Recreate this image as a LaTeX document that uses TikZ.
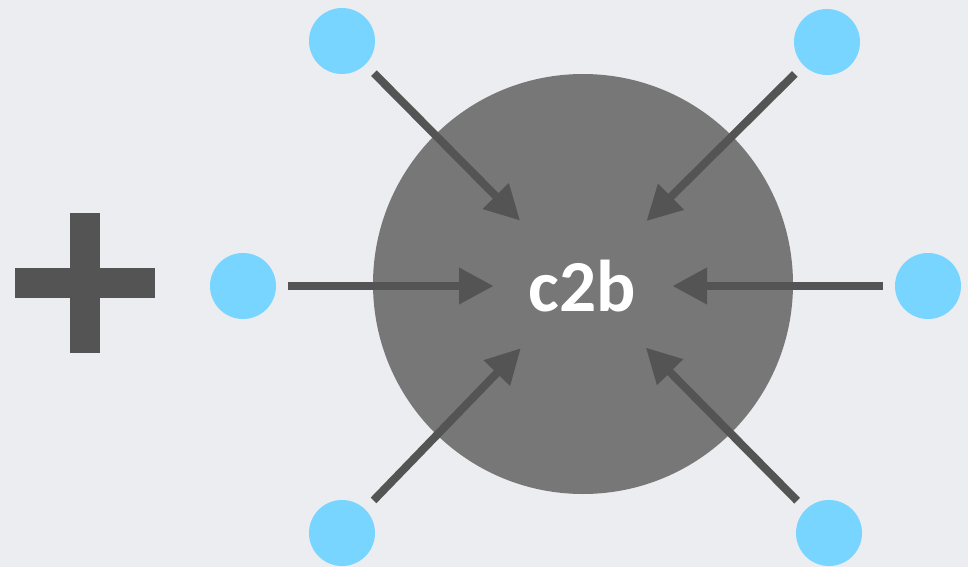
\documentclass[tikz,border=0pt]{standalone}
\usepackage{fontspec}
\setmainfont{Carlito}
\usetikzlibrary{arrows.meta}
\definecolor{bgc}{RGB}{236,237,240}
\definecolor{hubc}{RGB}{119,119,119}
\definecolor{inkc}{RGB}{84,84,84}
\definecolor{dotc}{RGB}{119,213,255}
\begin{document}
\begin{tikzpicture}[x=0.75pt,y=-0.75pt,
  dot/.style={circle,fill=dotc,minimum size=49.5pt,inner sep=0pt},
  feed/.style={draw=inkc,line width=6pt,
    -{Triangle[length=26pt,width=26pt]},
    shorten <=34pt,shorten >=67pt}]
  % background and frame
  \fill[bgc] (0,0) rectangle (968,567);
  \useasboundingbox (0,0) rectangle (968,567);
  % plus sign
  \fill[inkc] (15,268) rectangle (155,298);
  \fill[inkc] (70,213) rectangle (100,353);
  % central hub
  \node[circle,fill=hubc,minimum size=315pt,inner sep=0pt] (hub) at (583,284) {};
  % surrounding dots
  \node[dot] (s1) at (342,41) {};
  \node[dot] (s2) at (827,42) {};
  \node[dot] (s3) at (243,286) {};
  \node[dot] (s4) at (928,286) {};
  \node[dot] (s5) at (342,533) {};
  \node[dot] (s6) at (829,533) {};
  % arrows into the hub, measured between centres
  \foreach \s in {s1,s2,s5,s6}
    \draw[feed] (\s.center) -- (hub.center);
  % side arrows run level with their dots
  \foreach \s in {s3,s4}
    \draw[feed] (\s.center) -- (\s.center -| hub.center);
  % label
  \node[anchor=base,text=white,font=\bfseries\fontsize{55}{55}\selectfont] (label) at (582,311) {c2b};
\end{tikzpicture}
\end{document}
